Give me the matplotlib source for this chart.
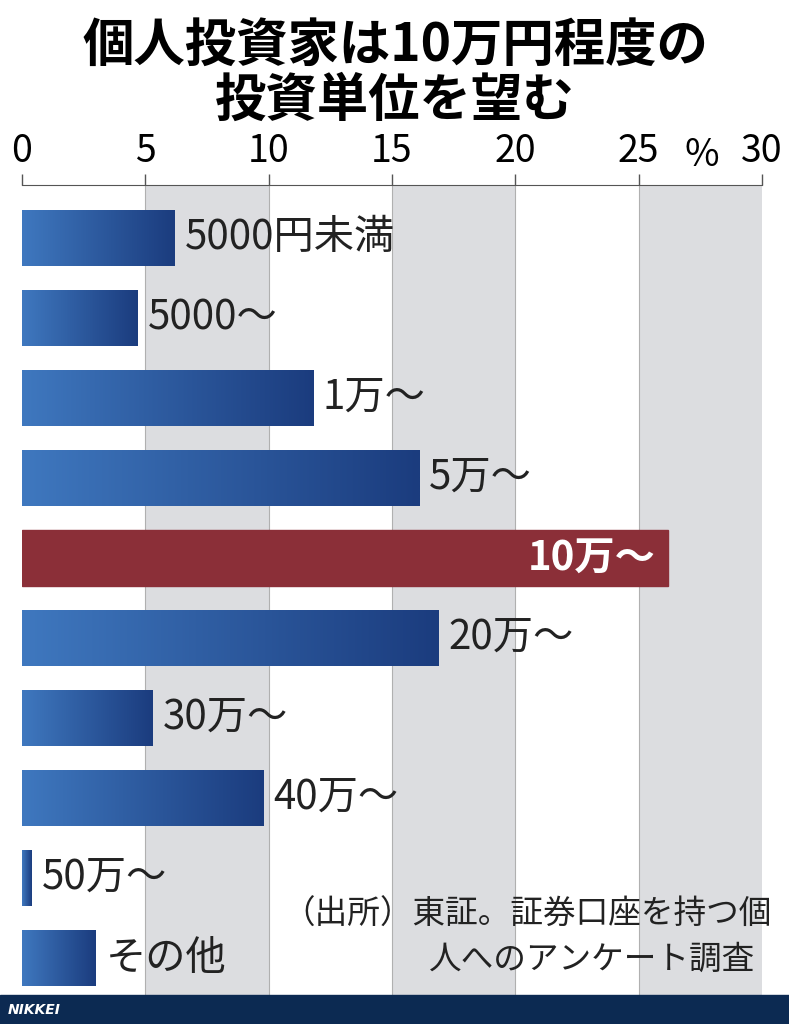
import matplotlib
matplotlib.use("Agg")
import matplotlib.pyplot as plt
import numpy as np
from matplotlib.patches import Rectangle

plt.rcParams["font.family"] = "Noto Sans CJK JP"

categories = ["5000円未満", "5000～", "1万～", "5万～", "10万～", "20万～", "30万～", "40万～", "50万～", "その他"]
values = [6.2, 4.7, 11.8, 16.1, 26.2, 16.9, 5.3, 9.8, 0.4, 3.0]
highlight = "10万～"
ticks = [0, 5, 10, 15, 20, 25, 30]

W, H = 789, 1024
fig = plt.figure(figsize=(W/100, H/100), dpi=100)
ax = fig.add_axes([22/W, (H-995)/H, (762-22)/W, (995-185)/H])
n = len(categories)
YL = (9.46, -0.66)
for i in range(6):
    if i % 2 == 1:
        ax.axvspan(ticks[i], ticks[i+1], color="#dcdde0", zorder=0, lw=0)
for t in ticks[1:-1]:
    ax.axvline(t, color="#b0b0b0", lw=0.8, zorder=0.5)

grad = np.linspace(0, 1, 256).reshape(1, -1)
cmap = matplotlib.colors.LinearSegmentedColormap.from_list("b", ["#3f78bf", "#1b3c7e"])
h = 0.7
for i, (c, v) in enumerate(zip(categories, values)):
    if c == highlight:
        ax.add_patch(Rectangle((0, i - h/2), v, h, color="#8b2f38", zorder=2))
        ax.text(v - 0.5, i, c, ha="right", va="center", fontsize=29, color="white", fontweight="bold", zorder=3)
    else:
        im = ax.imshow(grad, cmap=cmap, aspect="auto", extent=(0, v, i + h/2, i - h/2), zorder=2)
        r = Rectangle((0, i - h/2), v, h, transform=ax.transData, fc="none", lw=0)
        ax.add_patch(r)
        im.set_clip_path(r)
        ax.text(v + 0.4, i, c, ha="left", va="center", fontsize=29, color="#222222", zorder=3)
ax.set_xlim(0, 30)
ax.set_ylim(*YL)

ax.xaxis.tick_top()
ax.set_xticks(ticks)
ax.set_xticklabels([str(t) for t in ticks], fontsize=27)
ax.tick_params(axis="x", length=8, width=1, color="#555555", pad=2)
ax.set_yticks([])
for s in ["right", "bottom", "left"]:
    ax.spines[s].set_visible(False)
ax.spines["top"].set_color("#555555")
fig.text(702/W, 1 - 156/H, "%", fontsize=27, ha="center", va="center")

fig.text(395/W, 1 - 45/H, "個人投資家は10万円程度の", fontsize=37, fontweight="bold", ha="center", va="center")
fig.text(395/W, 1 - 100/H, "投資単位を望む", fontsize=37, fontweight="bold", ha="center", va="center")

fig.text(772/W, 1 - 915/H, "（出所）東証。証券口座を持つ個", fontsize=23.5, ha="right", va="center", color="#222222")
fig.text(755/W, 1 - 960/H, "人へのアンケート調査", fontsize=23.5, ha="right", va="center", color="#222222")

fig.patches.append(Rectangle((0, 0), 1, 29/H, transform=fig.transFigure, color="#0c2a52", zorder=5))
fig.text(8/W, 14/H, "NIKKEI", fontsize=10, color="white", fontweight="bold", style="italic",
         family="DejaVu Sans", va="center", zorder=6)
fig.savefig("out.png", dpi=100, facecolor="white")
